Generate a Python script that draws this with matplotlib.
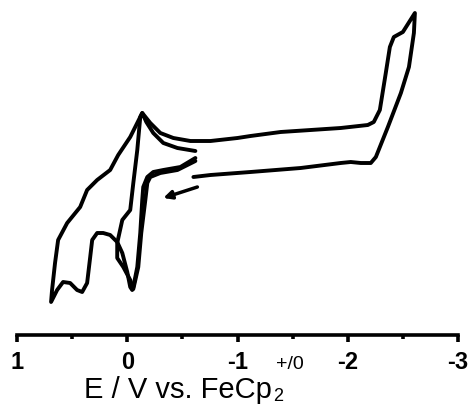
import matplotlib
matplotlib.use("Agg")
import matplotlib.pyplot as plt
from matplotlib.ticker import MultipleLocator, FixedLocator

plt.rcParams['font.family'] = ['Liberation Sans', 'DejaVu Sans']
plt.rcParams['axes.unicode_minus'] = False

# first scan: -0.6 V -> +0.69 V -> -2.61 V -> -0.6 V  (potential in V, current in arb. units)
scan1_E = [-0.618, -0.482, -0.327, -0.236, -0.182, -0.145, -0.136, -0.118, -0.091, -0.055, -0.045,
           -0.027, 0.000, 0.045, 0.091, 0.155, 0.218, 0.273, 0.318, 0.336, 0.364, 0.409, 0.455,
           0.518, 0.582, 0.636, 0.691,
           0.682, 0.655, 0.627, 0.545, 0.427, 0.364, 0.273, 0.155, 0.082, -0.027, -0.136,
           -0.209, -0.300, -0.418, -0.573, -0.755, -1.000, -1.118, -1.391, -1.664, -1.936,
           -2.182, -2.236, -2.291, -2.345, -2.382, -2.418, -2.500, -2.609,
           -2.600, -2.555, -2.482, -2.364, -2.255, -2.209, -2.118, -2.027, -1.936, -1.573,
           -1.118, -0.755, -0.600]
scan1_i = [17.7, 16.8, 16.5, 16.3, 15.8, 14.8, 13.5, 10.2, 6.8, 4.8, 4.5,
           4.8, 6.3, 8.2, 9.3, 10.0, 10.2, 10.2, 9.5, 7.8, 5.2, 4.3, 4.5,
           5.2, 5.3, 4.5, 3.3,
           4.5, 7.2, 9.5, 11.2, 12.8, 14.5, 15.5, 16.5, 18.0, 19.8, 22.2,
           21.2, 20.2, 19.7, 19.4, 19.4, 19.7, 19.9, 20.3, 20.5, 20.7,
           21.0, 21.3, 22.5, 26.2, 28.8, 29.8, 30.3, 32.2,
           30.2, 26.8, 24.2, 20.8, 17.8, 17.2, 17.2, 17.3, 17.2, 16.7,
           16.3, 16.0, 15.8]

# second scan: -0.6 V -> +0.05 V -> -0.6 V
scan2_E = [-0.618, -0.455, -0.300, -0.209, -0.182, -0.164, -0.127, -0.100, -0.055,
           -0.027, 0.036, 0.091, 0.091, 0.045, -0.027, -0.055, -0.091, -0.118, -0.136,
           -0.173, -0.236, -0.327, -0.455, -0.618]
scan2_i = [17.4, 16.5, 16.2, 15.8, 15.2, 13.5, 10.2, 6.8, 4.6,
           5.5, 6.8, 7.7, 9.2, 11.5, 12.5, 15.2, 18.5, 21.8, 22.2,
           21.3, 20.2, 19.2, 18.7, 18.4]

arrow_from = (-0.636, 14.8)
arrow_to = (-0.327, 13.7)

xticks = [1, 0, -1, -2, -3]
xtick_labels = ['1', '0', '-1', '-2', '-3']

fig = plt.figure(figsize=(4.7, 4.08), dpi=100)
ax = fig.add_axes([17 / 470, 73 / 408, 441 / 470, 335 / 408])

ax.plot(scan1_E, scan1_i, color='black', lw=2.8, solid_joinstyle='round',
        solid_capstyle='round', clip_on=False)
ax.plot(scan2_E, scan2_i, color='black', lw=2.8, solid_joinstyle='round',
        solid_capstyle='round', clip_on=False)
ax.annotate('', xy=arrow_to, xytext=arrow_from,
            arrowprops=dict(arrowstyle='-|>', lw=2.5, color='black', mutation_scale=12,
                            shrinkA=0, shrinkB=0))

ax.set_xlim(1, -3)
ax.set_ylim(0, 33.5)
for s in ['left', 'right', 'top']:
    ax.spines[s].set_visible(False)
ax.spines['bottom'].set_linewidth(2.6)
ax.set_yticks([])
ax.xaxis.set_major_locator(FixedLocator(xticks))
ax.set_xticklabels(xtick_labels, fontsize=17, fontweight='bold')
ax.xaxis.set_minor_locator(MultipleLocator(0.5))
ax.tick_params(axis='x', which='major', direction='out', length=5, width=2.6, pad=6.5)
ax.tick_params(axis='x', which='minor', direction='out', length=3, width=2.6)

lab = fig.text(178 / 470, 10 / 408, 'E / V vs. FeCp', fontsize=21, ha='center', va='baseline')
ax.annotate('2', xy=(1, 0), xycoords=lab, xytext=(0.5, 2.3), textcoords='offset points',
            fontsize=13, ha='left', va='baseline', annotation_clip=False)
ax.annotate('+/0', xy=(1, 0), xycoords=lab, xytext=(3, 25.5), textcoords='offset points',
            fontsize=14, ha='left', va='baseline', annotation_clip=False)

fig.savefig('out.png', dpi=100)
